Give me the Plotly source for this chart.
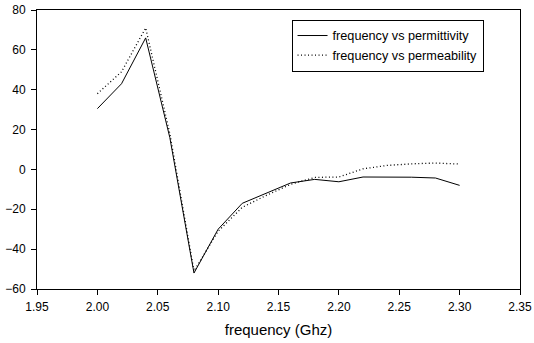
import plotly.graph_objects as go

freq = [2.00, 2.02, 2.04, 2.06, 2.08, 2.10, 2.12, 2.14, 2.16, 2.18, 2.20, 2.22, 2.24, 2.26, 2.28, 2.30]
permittivity = [30.5, 43, 66, 16, -52, -30, -17, -12, -6.8, -5, -6.2, -3.8, -3.8, -3.9, -4.3, -8]
permeability = [38, 49, 71, 18, -51, -31, -19, -13, -7.5, -4, -3.8, 0.3, 2, 2.8, 3.2, 2.7]
x_ticks = [1.95, 2.00, 2.05, 2.10, 2.15, 2.20, 2.25, 2.30, 2.35]
y_ticks = [-60, -40, -20, 0, 20, 40, 60, 80]

fig = go.Figure()
fig.add_trace(go.Scatter(x=freq, y=permittivity, mode="lines", name="frequency vs permittivity",
                         line=dict(color="black", width=1, dash="solid")))
fig.add_trace(go.Scatter(x=freq, y=permeability, mode="lines", name="frequency vs permeability",
                         line=dict(color="black", width=1.3, dash="1px,2.5px")))

axis_common = dict(showgrid=False, zeroline=False, showline=True, linecolor="black", linewidth=1,
                   mirror=True, ticks="outside", ticklen=5, tickcolor="black", automargin=False,
                   tickfont=dict(family="Liberation Sans, Arial", size=12, color="black"))
fig.update_layout(
    width=534, height=343,
    margin=dict(l=37, r=14, t=10, b=54),
    plot_bgcolor="white", paper_bgcolor="white",
    font=dict(family="Liberation Sans, Arial", size=12, color="black"),
    xaxis=dict(range=[1.95, 2.35], tickvals=x_ticks, ticktext=[f"{v:.2f}" for v in x_ticks],
               ticklabelstandoff=2,
               title=dict(text="frequency (Ghz)", font=dict(size=15), standoff=11), **axis_common),
    yaxis=dict(range=[-60, 80], tickvals=y_ticks, ticklabelstandoff=3, **axis_common),
    legend=dict(x=0.527, y=0.965, xanchor="left", yanchor="top", bgcolor="white",
                bordercolor="black", borderwidth=1, font=dict(size=12.7),
                tracegroupgap=0, itemwidth=30),
    showlegend=True,
)
fig.write_html("out.html", config={"displayModeBar": False},
               post_script="document.body.style.margin='0';")
